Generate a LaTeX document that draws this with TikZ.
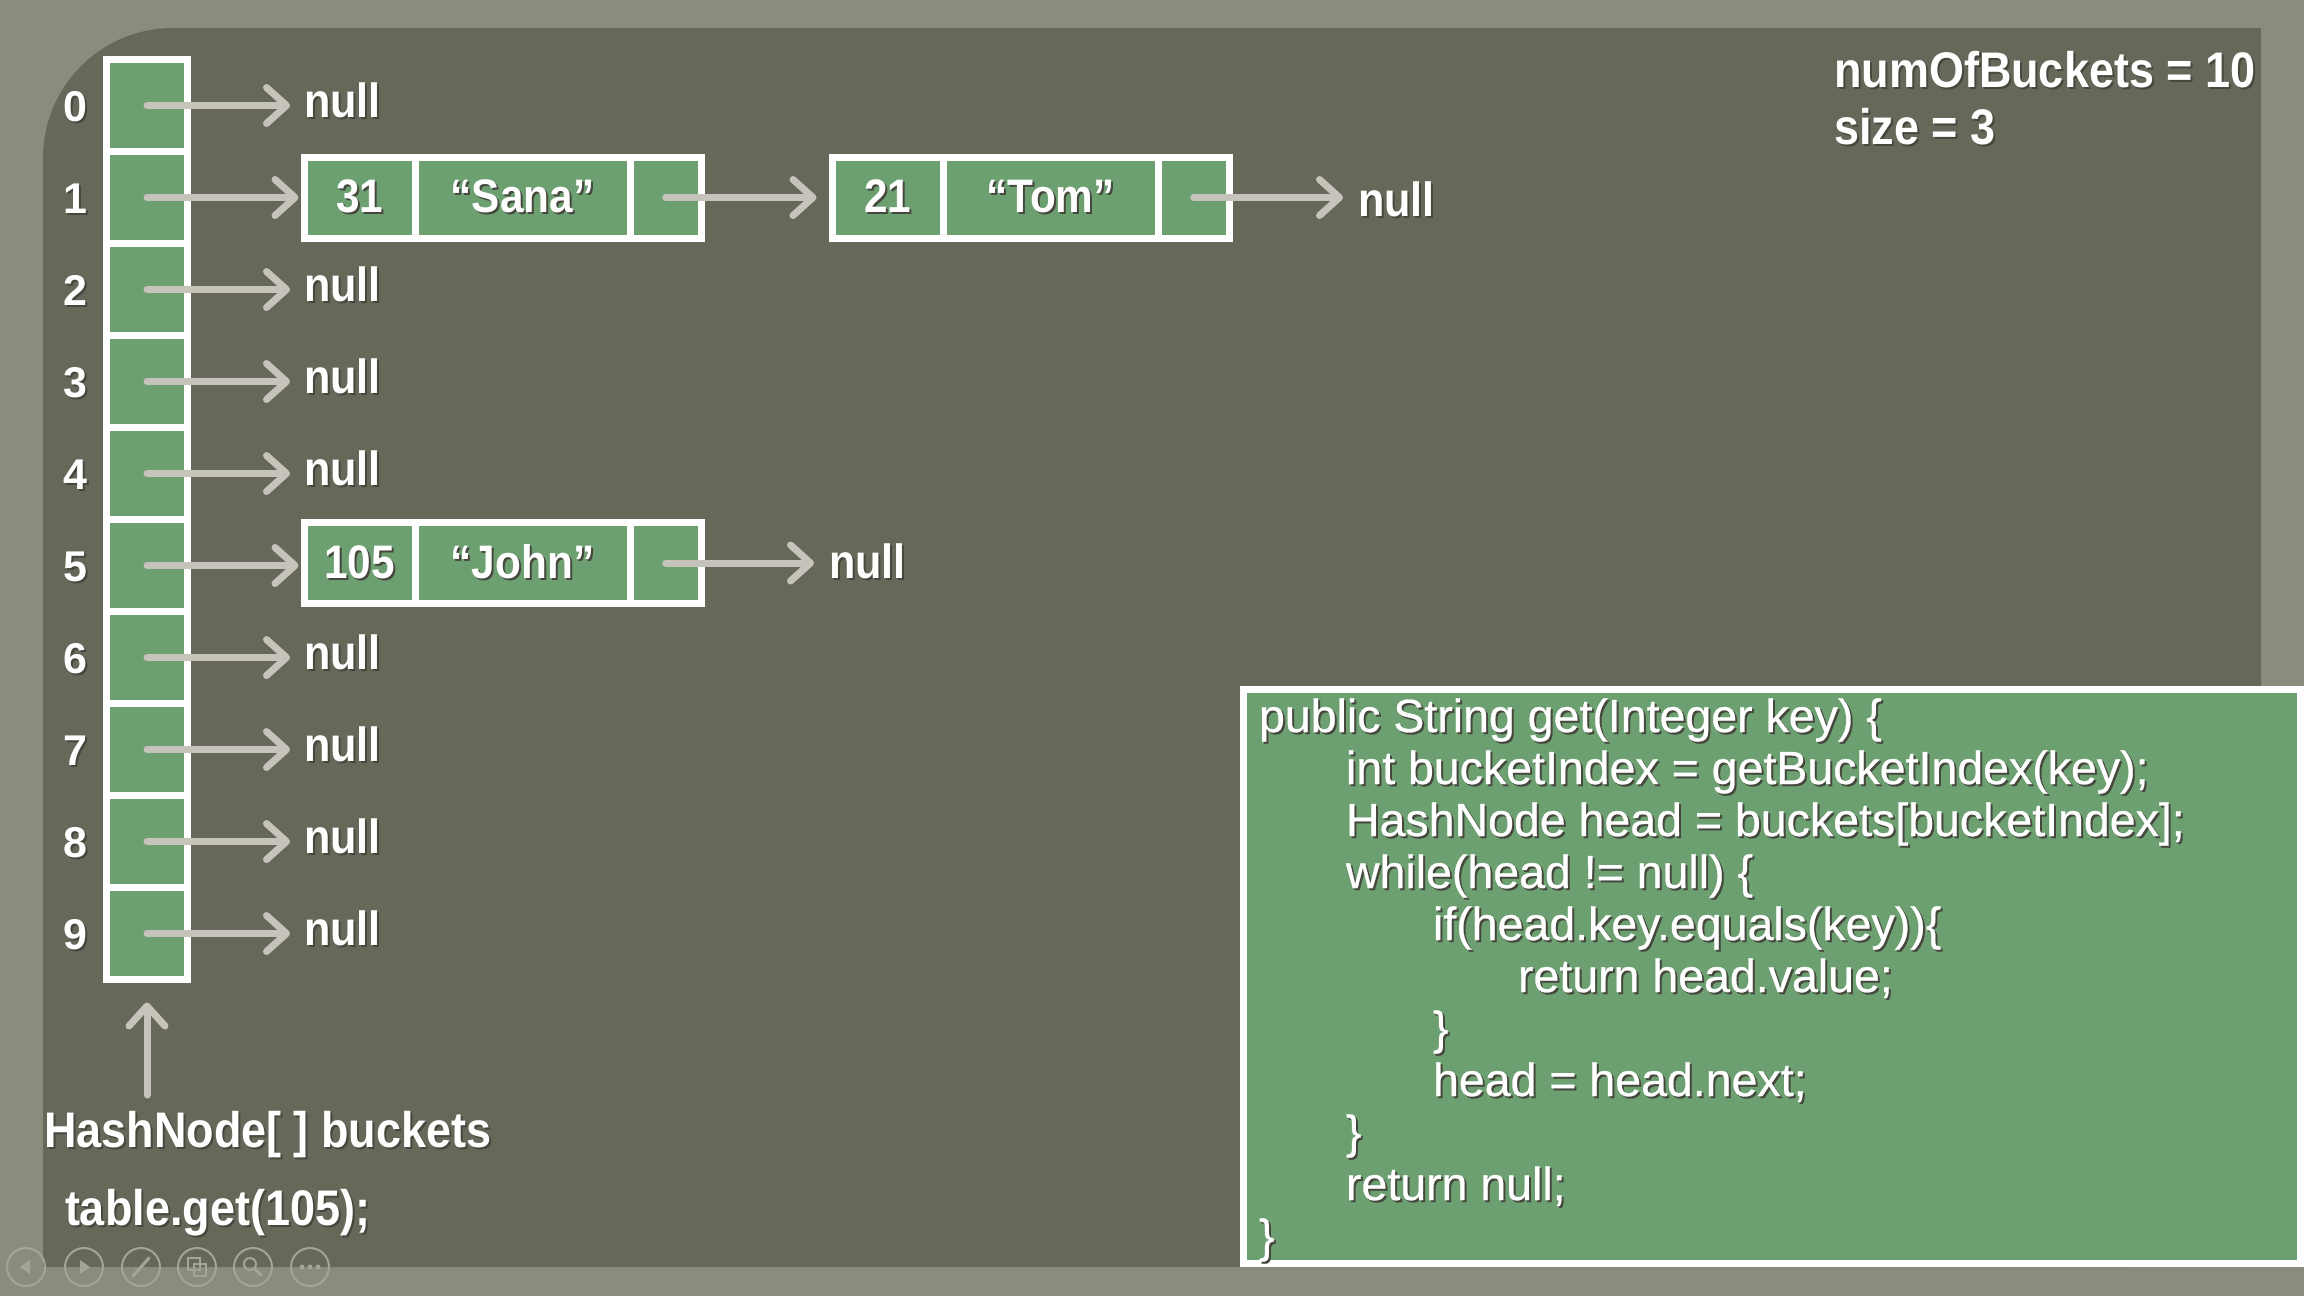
\documentclass[tikz,border=0pt]{standalone}
\usepackage{fontspec}
\setmainfont{Liberation Sans}
\newfontfamily\labfont{Liberation Sans}[FakeStretch=0.9]
\newfontfamily\codefont{Liberation Sans}[FakeBold=0.6]
\usetikzlibrary{arrows.meta}
\definecolor{outerbg}{HTML}{8A8C7D}
\definecolor{panelc}{HTML}{666859}
\definecolor{cellgreen}{HTML}{6CA071}
\definecolor{arrowc}{HTML}{C6C3BA}
\definecolor{shadowc}{HTML}{46483E}
\definecolor{iconc}{HTML}{A3A596}
\newcommand\shtxt[1]{\leavevmode\rlap{\kern2pt\raisebox{-2pt}{\textcolor{shadowc}{#1}}}#1}
\tikzset{
  every node/.style={inner sep=0pt, outer sep=0pt, text=white},
  bucketcell/.style={draw=white, fill=cellgreen, line width=7pt, minimum width=81pt, minimum height=92pt},
  listcell/.style={draw=white, fill=cellgreen, line width=7pt, minimum height=81pt,
    font=\labfont\bfseries\fontsize{47}{50}\selectfont},
  idxlab/.style={anchor=base, font=\bfseries\fontsize{43}{46}\selectfont},
  nulllab/.style={anchor=base west, font=\labfont\bfseries\fontsize{48}{50}\selectfont},
  biglab/.style={anchor=base west, font=\labfont\bfseries\fontsize{50}{54}\selectfont},
  codeline/.style={anchor=base west, font=\codefont\fontsize{46.5}{52}\selectfont},
  arr/.style={draw=arrowc, line width=7pt, line cap=round,
    -{Straight Barb[length=20pt, width=36pt, line cap=round, line join=round]}},
  codebox/.style={draw=white, fill=cellgreen, line width=7pt}
}
\begin{document}
\begin{tikzpicture}[x=1pt, y=-1pt]
\useasboundingbox (0,0) rectangle (2304,1296);
% backgrounds
\fill[outerbg] (0,0) rectangle (2304,1296);
\fill[panelc, rounded corners=130pt] (43,28) rectangle (2261,1267);
\fill[panelc] (400,28) rectangle (2261,1267);
\fill[panelc] (43,400) rectangle (2261,1267);

% code box
\node[codebox, minimum width=1057pt, minimum height=574pt] (code) at (1772,976.5) {};

% bucket array
\foreach \i in {0,...,9} {
  \node[bucketcell] (b\i) at (147,{105.5+92*\i}) {};
  \node[idxlab] (i\i) at (75,{121+92*\i}) {\shtxt{\i}};
}

% list node row 1 (Sana)
\node[listcell, minimum width=110.5pt] (k1) at (359.75,197.5) {\shtxt{31}};
\node[listcell, minimum width=215pt] (v1) at (522.5,197.5) {\shtxt{“Sana”}};
\node[listcell, minimum width=71.5pt] (x1) at (665.75,197.5) {};
% list node (Tom)
\node[listcell, minimum width=110.5pt] (k2) at (887.75,197.5) {\shtxt{21}};
\node[listcell, minimum width=215pt] (v2) at (1050.5,197.5) {\shtxt{“Tom”}};
\node[listcell, minimum width=71.5pt] (x2) at (1193.75,197.5) {};
% list node row 5 (John)
\node[listcell, minimum width=110.5pt] (k5) at (359.75,563) {\shtxt{105}};
\node[listcell, minimum width=215pt] (v5) at (522.5,563) {\shtxt{“John”}};
\node[listcell, minimum width=71.5pt] (x5) at (665.75,563) {};

% null labels and arrows of empty buckets
\foreach \i in {0,2,3,4,6,7,8,9} {
  \node[nulllab] (n\i) at (304,{117+92*\i}) {\shtxt{null}};
  \draw[arr, shorten >=14pt] (b\i.center) -- (b\i.center -| n\i.west);
}
% arrows into list nodes
\draw[arr, shorten >=6pt] (b1.center) -- (b1.center -| k1.west);
\draw[arr, shorten >=6pt] (b5.center) -- (b5.center -| k5.west);
\draw[arr, shorten >=16pt] (x1.center) -- (k2.west);
\node[nulllab] (nt) at (1358,216) {\shtxt{null}};
\draw[arr, shorten >=15pt] (x2.center) -- (x2.center -| nt.west);
\node[nulllab] (nj) at (829,578) {\shtxt{null}};
\draw[arr, shorten >=15pt] (x5.center) -- (x5.center -| nj.west);

% labels bottom left
\node[biglab] (hn) at (44,1147) {\shtxt{HashNode[ ] buckets}};
\node[biglab] (tg) at (65,1225) {\shtxt{table.get(105);}};
\coordinate (hb) at (147,1095);
\draw[arr, shorten >=23pt] (hb) -- (b9.south);

% counters top right
\node[biglab] (nb) at (1834,87) {\shtxt{numOfBuckets = 10}};
\node[biglab] (sz) at (1834,144) {\shtxt{size = 3}};

% code
\node[codeline] (c0) at (1259,732) {\shtxt{public String get(Integer key) \{}};
\node[codeline] (c1) at (1346,784) {\shtxt{int bucketIndex = getBucketIndex(key);}};
\node[codeline] (c2) at (1346,836) {\shtxt{HashNode head = buckets[bucketIndex];}};
\node[codeline] (c3) at (1346,888) {\shtxt{while(head != null) \{}};
\node[codeline] (c4) at (1433,940) {\shtxt{if(head.key.equals(key))\{}};
\node[codeline] (c5) at (1518,992) {\shtxt{return head.value;}};
\node[codeline] (c6) at (1433,1044) {\shtxt{\}}};
\node[codeline] (c7) at (1433,1096) {\shtxt{head = head.next;}};
\node[codeline] (c8) at (1346,1148) {\shtxt{\}}};
\node[codeline] (c9) at (1346,1200) {\shtxt{return null;}};
\node[codeline] (c10) at (1259,1252) {\shtxt{\}}};

% slideshow control icons
\foreach \x in {26,84,141,197,253,310}
  \draw[iconc, line width=2pt] (\x,1267) circle[radius=19pt];
\fill[iconc] (20,1267) -- (30,1260) -- (30,1274) -- cycle;
\fill[iconc] (90,1267) -- (80,1260) -- (80,1274) -- cycle;
\draw[iconc, line width=3pt, line cap=round] (133,1276) -- (149,1258);
\draw[iconc, line width=2pt] (188,1258) rectangle (200,1270);
\draw[iconc, line width=2pt] (194,1264) rectangle (206,1276);
\draw[iconc, line width=2pt] (250,1264) circle[radius=6pt];
\draw[iconc, line width=3pt, line cap=round] (255,1269) -- (261,1275);
\foreach \x in {302,310,318} \fill[iconc] (\x,1267) circle[radius=2.5pt];
\end{tikzpicture}
\end{document}
